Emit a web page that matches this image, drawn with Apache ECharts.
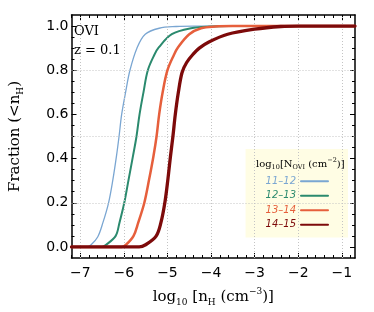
<!DOCTYPE html>
<html>
<head>
<meta charset="utf-8">
<script src="https://cdn.jsdelivr.net/npm/echarts@6/dist/echarts.min.js"></script>
<style>html,body{margin:0;padding:0;background:#fff;}#c{width:374px;height:312px;}</style>
</head>
<body>
<div id="c"></div>
<script>
// ---- data ----
const seriesNames = ['11\u201312', '12\u201313', '13\u201314', '14\u201315'];
const seriesColors = ['#7aa6d2', '#2b8a6e', '#e65f3c', '#7d0a0a'];
const seriesWidths = [1.3, 2, 2.5, 3.3];

const curve1112 = [
  [-7.2, 0], [-6.85, 0], [-6.75, 0.01], [-6.6, 0.045], [-6.48, 0.11], [-6.35, 0.2],
  [-6.25, 0.306], [-6.17, 0.41], [-6.11, 0.5], [-6.05, 0.6], [-5.96, 0.7], [-5.86, 0.8],
  [-5.7, 0.9], [-5.51, 0.963], [-5.19, 0.99], [-4.8, 0.998], [-4.4, 1.0], [-0.7, 1.0]
];
const curve1213 = [
  [-7.2, 0], [-6.5, 0], [-6.42, 0.008], [-6.19, 0.049], [-6.1, 0.11], [-5.99, 0.2],
  [-5.89, 0.306], [-5.79, 0.412], [-5.71, 0.5], [-5.64, 0.6], [-5.55, 0.7], [-5.45, 0.8],
  [-5.3, 0.87], [-5.2, 0.903], [-4.9, 0.963], [-4.46, 0.99], [-4.0, 0.998], [-3.6, 1.0], [-0.7, 1.0]
];
const curve1314 = [
  [-7.2, 0], [-6.05, 0], [-5.95, 0.01], [-5.78, 0.049], [-5.67, 0.11], [-5.53, 0.2],
  [-5.42, 0.306], [-5.32, 0.412], [-5.25, 0.5], [-5.19, 0.6], [-5.11, 0.7], [-5.0, 0.8],
  [-4.85, 0.87], [-4.76, 0.903], [-4.5, 0.963], [-4.23, 0.99], [-3.9, 0.998], [-3.5, 1.0], [-0.7, 1.0]
];
const curve1415 = [
  [-7.2, 0], [-5.65, 0], [-5.5, 0.01], [-5.26, 0.049], [-5.15, 0.11], [-5.06, 0.2],
  [-4.99, 0.306], [-4.93, 0.412], [-4.875, 0.5], [-4.82, 0.6], [-4.75, 0.7],
  [-4.665, 0.79], [-4.56, 0.835], [-4.41, 0.873], [-4.27, 0.9], [-4.05, 0.928],
  [-3.62, 0.963], [-3.0, 0.986], [-2.4, 0.998], [-2.0, 1.0], [-0.7, 1.0]
];
const curves = [curve1112, curve1213, curve1314, curve1415];

const xMajorTicks = [-7, -6, -5, -4, -3, -2, -1];
const xMinorTicks = [-7.2, -6.8, -6.6, -6.4, -6.2, -5.8, -5.6, -5.4, -5.2, -4.8, -4.6, -4.4, -4.2,
  -3.8, -3.6, -3.4, -3.2, -2.8, -2.6, -2.4, -2.2, -1.8, -1.6, -1.4, -1.2, -0.8];
const yMajorTicks = [0, 0.2, 0.4, 0.6, 0.8, 1.0];
const yMinorTicks = [0.05, 0.1, 0.15, 0.25, 0.3, 0.35, 0.45, 0.5, 0.55, 0.65, 0.7, 0.75, 0.85, 0.9, 0.95];
const xGridLines = [-7, -6, -5, -4, -3, -2, -1];
const yGridLines = [0.2, 0.5, 0.8];

// ---- chart ----
const chart = echarts.init(document.getElementById('c'), null, {renderer: 'canvas'});
const SERIF = 'DejaVu Serif';
const SANS = 'DejaVu Sans';
const XMIN = -7.2, XMAX = -0.7, YMIN = -0.05, YMAX = 1.05;

function xAx(pos, ticks, len, labels, line) {
  return {
    type: 'value', min: XMIN, max: XMAX, position: pos, gridIndex: 0,
    axisLine: {show: line, onZero: false, lineStyle: {color: '#000', width: 1.5}},
    axisTick: {show: true, inside: true, length: len, customValues: ticks, lineStyle: {color: '#000', width: 1}},
    axisLabel: labels ? {
      show: true, customValues: xMajorTicks, margin: 8, color: '#000',
      fontFamily: SANS, fontSize: 14,
      formatter: v => String(v).replace('-', '\u2212')
    } : {show: false},
    splitLine: {show: false}, minorTick: {show: false}
  };
}
function yAx(pos, ticks, len, labels, line) {
  return {
    type: 'value', min: YMIN, max: YMAX, position: pos, gridIndex: 0,
    axisLine: {show: line, onZero: false, lineStyle: {color: '#000', width: 1.5}},
    axisTick: {show: true, inside: true, length: len, customValues: ticks, lineStyle: {color: '#000', width: 1}},
    axisLabel: labels ? {
      show: true, customValues: yMajorTicks, margin: 3, color: '#000',
      fontFamily: SANS, fontSize: 14,
      formatter: v => v.toFixed(1)
    } : {show: false},
    splitLine: {show: false}, minorTick: {show: false}
  };
}

const xAxes = [
  xAx('bottom', xMajorTicks, 5, true, true),
  xAx('bottom', xMinorTicks, 3, false, false),
  xAx('top', xMajorTicks, 5, false, true),
  xAx('top', xMinorTicks, 3, false, false)
];
xAxes[0].name = '{n|log}{sb|10}{n| [n}{sb|H}{n| (cm}{sp|\u22123}{n|)]}';
xAxes[0].nameLocation = 'middle';
xAxes[0].nameGap = 29;
xAxes[0].nameTextStyle = {
  fontFamily: SERIF, fontSize: 15, color: '#000',
  rich: {
    n: {fontFamily: SERIF, fontSize: 15, color: '#000', lineHeight: 20},
    sb: {fontFamily: SERIF, fontSize: 9, color: '#000', verticalAlign: 'bottom', lineHeight: 10},
    sp: {fontFamily: SERIF, fontSize: 9, color: '#000', verticalAlign: 'top', lineHeight: 10}
  }
};
const yAxes = [
  yAx('left', yMajorTicks, 5, true, true),
  yAx('left', yMinorTicks, 3, false, false),
  yAx('right', yMajorTicks, 5, false, true),
  yAx('right', yMinorTicks, 3, false, false)
];
yAxes[0].name = '{n|Fraction (<n}{sb|H}{n|)}';
yAxes[0].nameLocation = 'middle';
yAxes[0].nameGap = 46;
yAxes[0].nameTextStyle = {
  fontFamily: SERIF, fontSize: 15, color: '#000',
  rich: {
    n: {fontFamily: SERIF, fontSize: 15, color: '#000', lineHeight: 20},
    sb: {fontFamily: SERIF, fontSize: 9, color: '#000', verticalAlign: 'bottom', lineHeight: 10}
  }
};

const gridSeries = {
  type: 'line', name: 'grid', data: [], xAxisIndex: 0, yAxisIndex: 0, z: 1, silent: true,
  markLine: {
    silent: true, symbol: ['none', 'none'], label: {show: false}, animation: false,
    lineStyle: {color: '#c4c4c4', width: 1, type: [1, 2]},
    data: xGridLines.map(v => ({xAxis: v})).concat(yGridLines.map(v => ({yAxis: v})))
  }
};

const lineSeries = curves.map((d, i) => ({
  type: 'line', name: seriesNames[i], data: d, xAxisIndex: 0, yAxisIndex: 0,
  symbol: 'none', showSymbol: false, smooth: 0.35,
  lineStyle: {color: seriesColors[i], width: seriesWidths[i], join: 'round', cap: 'round'},
  itemStyle: {color: seriesColors[i]},
  z: 3 + i, animation: false
}));

chart.setOption({
  animation: false,
  grid: {left: 56, right: 19, top: 15, bottom: 53.5, containLabel: false},
  xAxis: xAxes,
  yAxis: yAxes,
  legend: {
    orient: 'vertical', right: 26, top: 149, align: 'right',
    backgroundColor: '#fffde4', borderWidth: 0,
    padding: [26.7, 19, 7, 20],
    itemWidth: 27, itemHeight: 14, itemGap: 3.3,
    selectedMode: false,
    itemStyle: {color: 'transparent', borderWidth: 0, opacity: 0},
    textStyle: {fontFamily: SANS, fontSize: 10, fontStyle: 'italic'},
    data: seriesNames.map((n, i) => ({name: n, textStyle: {color: seriesColors[i]}}))
  },
  graphic: [
    {type: 'text', left: 74, top: 25, z: 100,
      style: {text: 'OVI', fontFamily: SERIF, fontSize: 13, fill: '#000'}},
    {type: 'text', left: 74, top: 44, z: 100,
      style: {text: 'z = 0.1', fontFamily: SERIF, fontSize: 13, fill: '#000'}},
    {type: 'text', left: 256, top: 157, z: 100,
      style: {
        text: '{n|log}{sb|10}{n|[N}{sb|OVI}{n| (cm}{sp|\u22122}{n|)]}',
        rich: {
          n: {fontFamily: SERIF, fontSize: 10, fill: '#000', lineHeight: 14},
          sb: {fontFamily: SERIF, fontSize: 6.5, fill: '#000', verticalAlign: 'bottom', lineHeight: 7},
          sp: {fontFamily: SERIF, fontSize: 6.5, fill: '#000', verticalAlign: 'top', lineHeight: 7}
        }
      }}
  ],
  series: [gridSeries].concat(lineSeries)
});
</script>
</body>
</html>
